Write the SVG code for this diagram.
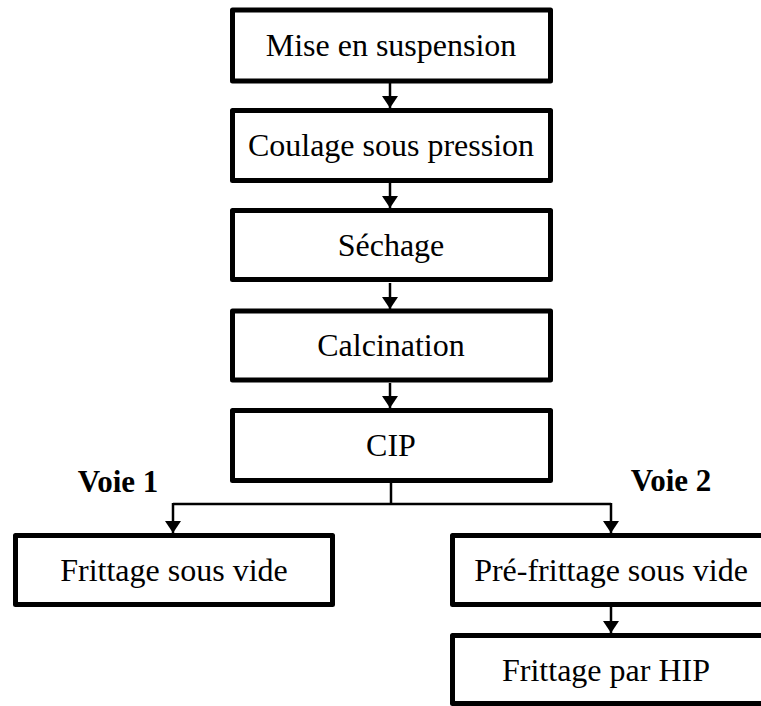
<svg xmlns="http://www.w3.org/2000/svg" width="761" height="706" viewBox="0 0 761 706">
<defs>
<style>
.box{fill:#fff;stroke:#000;stroke-width:5;stroke-linejoin:round}
.t{font-family:"Liberation Serif","Times New Roman",serif;font-size:32px;fill:#000;text-anchor:middle}
.v{font-family:"Liberation Serif","Times New Roman",serif;font-size:31px;font-weight:bold;fill:#000;text-anchor:middle}
.c{fill:none;stroke:#000;stroke-width:2.5}
</style>
<marker id="ah" viewBox="0 0 12 16" refX="12" refY="8" markerWidth="12" markerHeight="16" markerUnits="userSpaceOnUse" orient="auto">
<path d="M0,0 L12,8 L0,16 Z" fill="#000"/>
</marker>
</defs>
<rect width="761" height="706" fill="#fff"/>
<g id="connectors">
<line class="c" x1="390" y1="83" x2="390" y2="108" marker-end="url(#ah)"/>
<line class="c" x1="390" y1="183" x2="390" y2="208" marker-end="url(#ah)"/>
<line class="c" x1="390" y1="283" x2="390" y2="309" marker-end="url(#ah)"/>
<line class="c" x1="390" y1="383" x2="390" y2="408" marker-end="url(#ah)"/>
<polyline class="c" points="391,483 391,504"/>
<polyline class="c" points="173,504 611,504"/>
<line class="c" x1="173" y1="503" x2="173" y2="533" marker-end="url(#ah)"/>
<line class="c" x1="611" y1="503" x2="611" y2="533" marker-end="url(#ah)"/>
<line class="c" x1="611" y1="607" x2="611" y2="633" marker-end="url(#ah)"/>
</g>
<g id="n1"><rect class="box" x="232.5" y="10" width="318" height="71"/><text class="t" x="391" y="56">Mise en suspension</text></g>
<g id="n2"><rect class="box" x="232.5" y="110.5" width="318" height="70"/><text class="t" x="391" y="156">Coulage sous pression</text></g>
<g id="n3"><rect class="box" x="232.5" y="210.5" width="318" height="69"/><text class="t" x="391" y="256">Séchage</text></g>
<g id="n4"><rect class="box" x="232.5" y="311" width="318" height="69"/><text class="t" x="391" y="356">Calcination</text></g>
<g id="n5"><rect class="box" x="232.5" y="410.5" width="318" height="70"/><text class="t" x="391" y="456">CIP</text></g>
<g id="voie1"><text class="v" x="118" y="492">Voie 1</text></g>
<g id="voie2"><text class="v" x="671" y="491">Voie 2</text></g>
<g id="n6"><rect class="box" x="15.5" y="535.5" width="317" height="69"/><text class="t" x="174" y="581">Frittage sous vide</text></g>
<g id="n7"><rect class="box" x="452.5" y="535.5" width="330" height="69"/><text class="t" x="611" y="581">Pré-frittage sous vide</text></g>
<g id="n8"><rect class="box" x="452.5" y="635.5" width="330" height="68"/><text class="t" x="606" y="681">Frittage par HIP</text></g>
</svg>
